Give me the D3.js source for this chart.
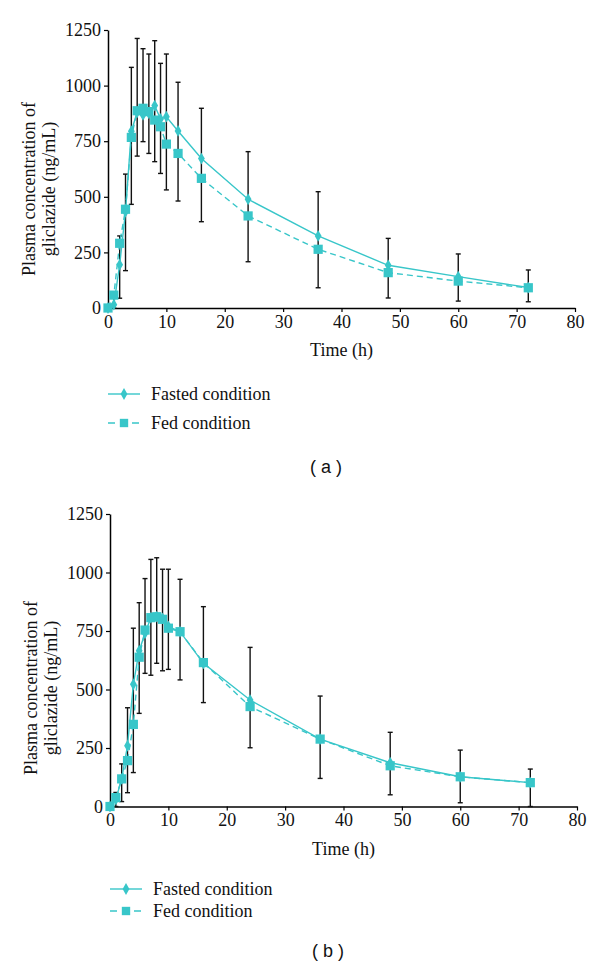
<!DOCTYPE html>
<html>
<head>
<meta charset="utf-8">
<script src="https://cdn.jsdelivr.net/npm/d3@7"></script>
<style>
  html, body { margin: 0; padding: 0; background: #fff; }
  svg { display: block; }
</style>
</head>
<body>
<svg id="chart" width="600" height="972"></svg>
<script>
// ---- data ----
const times = [0, 1, 2, 3, 4, 5, 6, 7, 8, 9, 10, 12, 16, 24, 36, 48, 60, 72];
const xTicks = [0, 10, 20, 30, 40, 50, 60, 70, 80];
const yTicks = [0, 250, 500, 750, 1000, 1250];
const seriesNames = ["Fasted condition", "Fed condition"];

// Panel (a)
const fastedA = [0, 15, 195, 433, 795, 880, 868, 875, 910, 850, 860, 796, 672, 489, 324, 192, 141, 92];
const fedA    = [0, 58, 291, 444, 767, 887, 898, 883, 845, 815, 737, 695, 583, 414, 264, 159, 121, 91];
const errHighA = [null, 70, 324, 602, 1082, 1212, 1166, 1142, 1202, 1100, 1142, 1015, 898, 703, 523, 313, 243, 171];
const errLowA  = [null, 0, 44, 168, 466, 683, 748, 695, 658, 605, 531, 481, 388, 208, 91, 45, 31, 28];

// Panel (b)
const fastedB = [0, 30, 118, 260, 522, 666, 740, 807, 811, 804, 770, 747, 612, 455, 288, 187, 127, 102];
const fedB    = [0, 38, 118, 196, 351, 638, 754, 807, 811, 800, 762, 747, 615, 427, 288, 174, 127, 102];
const errHighB = [null, 60, 182, 422, 762, 871, 974, 1056, 1063, 1014, 1014, 971, 854, 680, 472, 317, 241, 160];
const errLowB  = [null, 0, 21, 59, 145, 398, 569, 561, 612, 580, 586, 541, 444, 251, 120, 50, 16, 0];

const TEAL = "#38C6C9";
const SERIF = "'Liberation Serif', 'DejaVu Serif', serif";
const SANS = "'Liberation Sans', Arial, sans-serif";

const svg = d3.select("#chart");

function drawPanel(cfg) {
  const x = d3.scaleLinear().domain([0, 80]).range([cfg.x0, cfg.x1]);
  const y = d3.scaleLinear().domain([0, 1250]).range([cfg.y0, cfg.y1]);
  const g = svg.append("g");

  // axes
  const xAxis = d3.axisBottom(x).tickValues(xTicks).tickFormat(d3.format("d")).tickSize(4).tickSizeOuter(0).tickPadding(3);
  const yAxis = d3.axisLeft(y).tickValues(yTicks).tickFormat(d3.format("d")).tickSize(4).tickSizeOuter(0).tickPadding(3);
  const gx = g.append("g").attr("transform", `translate(0,${cfg.y0})`).call(xAxis);
  const gy = g.append("g").attr("transform", `translate(${cfg.x0},0)`).call(yAxis);
  [gx, gy].forEach(a => {
    a.select(".domain").attr("stroke", "#000").attr("stroke-width", 1.5);
    a.selectAll(".tick line").attr("stroke", "#000").attr("stroke-width", 1.2);
    a.selectAll(".tick text").attr("font-family", SERIF).attr("font-size", 18).attr("fill", "#111");
  });

  // error bars
  const eb = times.map((t, i) => ({ t, lo: cfg.lo[i], hi: cfg.hi[i] })).filter(d => d.hi !== null);
  const ebG = g.append("g").attr("stroke", "#111").attr("stroke-width", 1.4);
  ebG.selectAll("line.v").data(eb).join("line")
    .attr("x1", d => x(d.t)).attr("x2", d => x(d.t))
    .attr("y1", d => y(d.lo)).attr("y2", d => y(d.hi));
  ebG.selectAll("line.top").data(eb).join("line")
    .attr("x1", d => x(d.t) - 2.5).attr("x2", d => x(d.t) + 2.5)
    .attr("y1", d => y(d.hi)).attr("y2", d => y(d.hi));
  ebG.selectAll("line.bot").data(eb).join("line")
    .attr("x1", d => x(d.t) - 2.5).attr("x2", d => x(d.t) + 2.5)
    .attr("y1", d => y(d.lo)).attr("y2", d => y(d.lo));

  const line = d3.line().x(d => x(d[0])).y(d => y(d[1]));
  const fastedPts = times.map((t, i) => [t, cfg.fasted[i]]);
  const fedPts = times.map((t, i) => [t, cfg.fed[i]]);

  g.append("path").datum(fedPts).attr("d", line)
    .attr("fill", "none").attr("stroke", TEAL).attr("stroke-width", 1.4).attr("stroke-dasharray", "6,4");
  g.append("path").datum(fastedPts).attr("d", line)
    .attr("fill", "none").attr("stroke", TEAL).attr("stroke-width", 1.4);

  const diamond = d3.symbol().type(d3.symbolDiamond).size(40);
  const square = d3.symbol().type(d3.symbolSquare).size(85);

  g.append("g").selectAll("path").data(fedPts).join("path")
    .attr("d", square).attr("transform", d => `translate(${x(d[0])},${y(d[1])})`).attr("fill", TEAL);
  g.append("g").selectAll("path").data(fastedPts).join("path")
    .attr("d", diamond).attr("transform", d => `translate(${x(d[0])},${y(d[1])})`).attr("fill", TEAL);

  // axis titles
  const yt = g.append("text")
    .attr("transform", `translate(${cfg.ytX},${cfg.ytY}) rotate(-90)`)
    .attr("text-anchor", "middle").attr("font-family", SERIF).attr("font-size", 18).attr("fill", "#111");
  yt.append("tspan").attr("x", 0).attr("dy", 0).text("Plasma concentration of");
  yt.append("tspan").attr("x", 0).attr("dy", 20).text("gliclazide (ng/mL)");

  g.append("text").attr("x", (cfg.x0 + cfg.x1) / 2).attr("y", cfg.xtY)
    .attr("text-anchor", "middle").attr("font-family", SERIF).attr("font-size", 18).attr("fill", "#111")
    .text("Time (h)");

  // legend
  const lx = cfg.x0;
  const leg = g.append("g");
  seriesNames.forEach((name, i) => {
    const ly = cfg.legY[i];
    leg.append("line").attr("x1", lx).attr("x2", lx + 32).attr("y1", ly).attr("y2", ly)
      .attr("stroke", TEAL).attr("stroke-width", 1.4)
      .attr("stroke-dasharray", i === 1 ? "7,5" : null);
    leg.append("path").attr("d", i === 0 ? diamond : d3.symbol().type(d3.symbolSquare).size(70))
      .attr("transform", `translate(${lx + 16},${ly})`).attr("fill", TEAL);
    leg.append("text").attr("x", lx + 43).attr("y", ly + 6)
      .attr("font-family", SERIF).attr("font-size", 18).attr("fill", "#111").text(name);
  });

  g.append("text").attr("x", cfg.capX).attr("y", cfg.capY)
    .attr("text-anchor", "middle").attr("font-family", SANS).attr("font-size", 18).attr("fill", "#111")
    .text(cfg.caption);
}

drawPanel({
  x0: 108, x1: 575, y0: 308, y1: 30,
  fasted: fastedA, fed: fedA, lo: errLowA, hi: errHighA,
  ytX: 35, ytY: 189, xtY: 356,
  legY: [394, 423], capX: 326, capY: 473, caption: "( a )"
});

drawPanel({
  x0: 110, x1: 577, y0: 806.5, y1: 514,
  fasted: fastedB, fed: fedB, lo: errLowB, hi: errHighB,
  ytX: 37, ytY: 688, xtY: 855,
  legY: [889, 911], capX: 328, capY: 957, caption: "( b )"
});
</script>
</body>
</html>
